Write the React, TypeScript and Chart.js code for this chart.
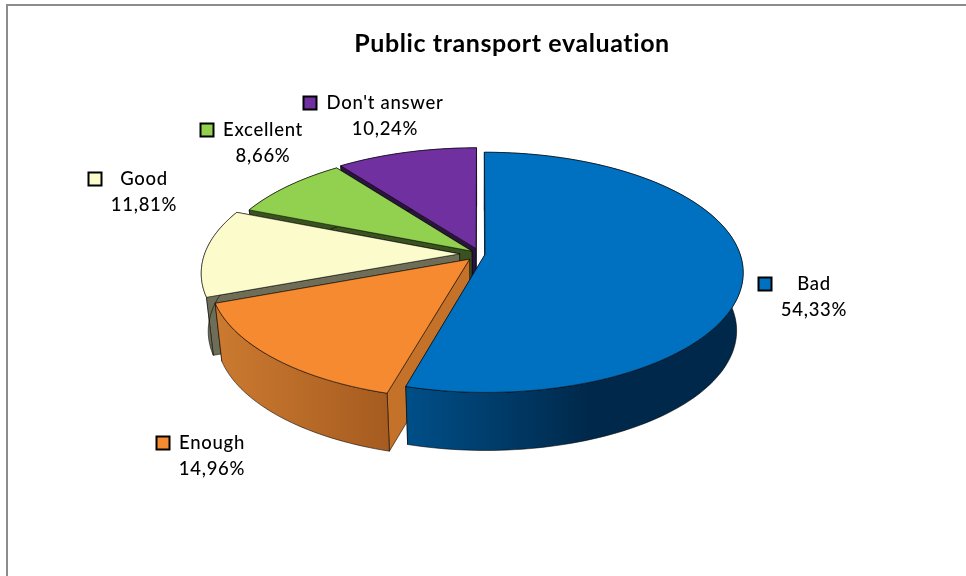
import { useEffect, useRef } from "react";
import { Chart, registerables } from "chart.js";

Chart.register(...registerables);

const categories = ["Bad", "Enough", "Good", "Excellent", "Don't answer"];
const shares = [54.33, 14.96, 11.81, 8.66, 10.24];
const topColors = ["#0070C0", "#F58A30", "#FCFBCB", "#92D050", "#7030A0"];
const faceColors = ["#003A66", "#C4712A", "#6E6E58", "#3A5220", "#2C1440"];
const rimStart = ["#004F88", "#CC7A30", "#6E6E58", "#3A5220", "#2C1440"];
const rimEnd = ["#00284A", "#A65C20", "#6E6E58", "#3A5220", "#2C1440"];
// Distance each slice is pulled out of the pie, in hundredths of the radius.
const explode = [2, 6, 8, 4, 5];

// Key box centre, then the centre of the two text lines, for each label.
const keyX = [765, 163, 95, 207, 310];
const keyY = [284, 443, 179, 130, 103];
const textX = [814, 212, 144, 263, 385];
const textY = [284, 443, 179, 130, 103];

const TITLE = "Public transport evaluation";

// Perspective of the pie's tilted disc.
const SPREAD_X = 255;
const SPREAD_Y = 117.3;
const PERSPECTIVE = 0.15;
const DEPTH = 58;
const BASE_SHRINK = 0.975;

type Pt = [number, number];

const project = (u: number, v: number): Pt => {
  const w = 1 - PERSPECTIVE * v;
  return [(SPREAD_X * u) / w, (SPREAD_Y * v) / w];
};

const pieceOfPie = {
  id: "tiltedPie",
  beforeDraw(chart: any) {
    const { ctx, width, height } = chart;
    ctx.save();
    ctx.fillStyle = "#ffffff";
    ctx.fillRect(0, 0, width, height);
    ctx.strokeStyle = "#8C8C8C";
    ctx.lineWidth = 2;
    ctx.beginPath();
    ctx.moveTo(7, height);
    ctx.lineTo(7, 5);
    ctx.lineTo(width, 5);
    ctx.stroke();
    ctx.restore();
  },
  beforeDatasetDraw(chart: any) {
    const { ctx } = chart;
    const arcs = chart.getDatasetMeta(0).data;
    ctx.save();
    ctx.lineJoin = "round";
    for (let i = arcs.length - 1; i >= 0; i--) {
      const arc = arcs[i];
      const { x, y, startAngle, endAngle } = arc;
      const mid = (startAngle + endAngle) / 2;
      const pull = arc.options.offset / 100;
      const ou = Math.cos(mid) * pull;
      const ov = Math.sin(mid) * pull;

      const steps = Math.ceil((endAngle - startAngle) * 40);
      const rim: Pt[] = [];
      for (let s = 0; s <= steps; s++) {
        const a = startAngle + ((endAngle - startAngle) * s) / steps;
        const p = project(Math.cos(a) + ou, Math.sin(a) + ov);
        rim.push([x + p[0], y + p[1]]);
      }
      const hub0 = project(ou, ov);
      const hub: Pt = [x + hub0[0], y + hub0[1]];
      const lower = (p: Pt): Pt => [x + BASE_SHRINK * (p[0] - x), p[1] + DEPTH];

      const fillPath = (pts: Pt[], fill: string | CanvasGradient) => {
        ctx.beginPath();
        pts.forEach((p, k) => (k ? ctx.lineTo(p[0], p[1]) : ctx.moveTo(p[0], p[1])));
        ctx.closePath();
        ctx.fillStyle = fill;
        ctx.fill();
        ctx.strokeStyle = "rgba(0,0,0,0.7)";
        ctx.lineWidth = 0.8;
        ctx.stroke();
      };

      // Side walls along both straight edges; the leading edge is the one seen.
      const first = rim[0];
      const last = rim[rim.length - 1];
      fillPath([hub, last, lower(last), lower(hub)], faceColors[i]);
      fillPath([hub, first, lower(first), lower(hub)], faceColors[i]);

      // Curved outer wall, shaded from left to right.
      const xs = rim.map((p) => p[0]);
      const grad = ctx.createLinearGradient(Math.min(...xs), 0, Math.max(...xs), 0);
      grad.addColorStop(0, rimStart[i]);
      grad.addColorStop(i === 0 ? 0.55 : 1, rimEnd[i]);
      grad.addColorStop(1, rimEnd[i]);
      fillPath([...rim, ...rim.map(lower).reverse()], grad);

      // Top face.
      fillPath([hub, ...rim], topColors[i]);
    }
    ctx.restore();
    return false;
  },
  afterDraw(chart: any) {
    const { ctx } = chart;
    ctx.save();
    ctx.textAlign = "center";
    ctx.textBaseline = "middle";
    ctx.fillStyle = "#000000";
    ctx.font = "bold 25px Lato";
    (ctx as any).letterSpacing = "0.6px";
    ctx.fillText(TITLE, 512, 44);
    ctx.font = "500 18.5px Lato";
    (ctx as any).letterSpacing = "0.7px";
    categories.forEach((name, i) => {
      ctx.fillStyle = topColors[i];
      ctx.fillRect(keyX[i] - 6.5, keyY[i] - 6.5, 13, 13);
      ctx.strokeStyle = "#000000";
      ctx.lineWidth = 2;
      ctx.strokeRect(keyX[i] - 6.5, keyY[i] - 6.5, 13, 13);
      ctx.fillStyle = "#000000";
      ctx.fillText(name, textX[i], textY[i]);
      ctx.fillText(shares[i].toFixed(2).replace(".", ",") + "%", textX[i], textY[i] + 26);
    });
    ctx.restore();
  },
};

export default function App() {
  const ref = useRef<HTMLCanvasElement>(null);
  useEffect(() => {
    document.body.style.margin = "0";
    const chart = new Chart(ref.current as HTMLCanvasElement, {
      type: "pie",
      data: {
        labels: categories,
        datasets: [{ data: shares, backgroundColor: topColors, offset: explode }],
      },
      options: {
        responsive: false,
        animation: false,
        layout: { padding: { right: 6, bottom: 68 } },
        plugins: { legend: { display: false }, tooltip: { enabled: false } },
      },
      plugins: [pieceOfPie],
    } as any);
    return () => chart.destroy();
  }, []);
  return <canvas ref={ref} width={966} height={576} style={{ display: "block" }} />;
}
